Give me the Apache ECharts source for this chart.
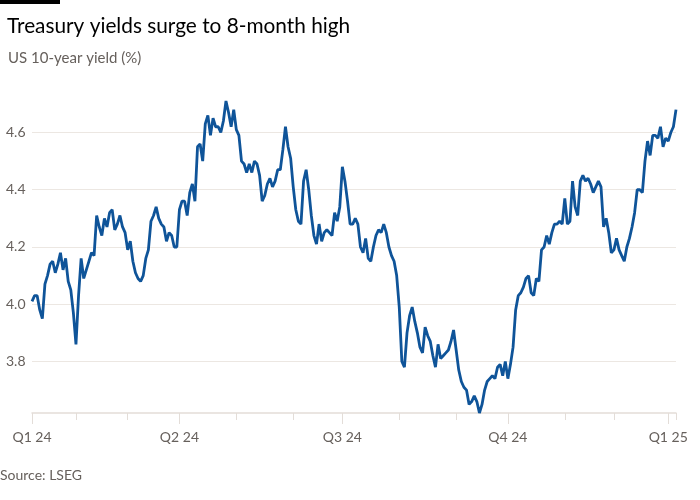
<!DOCTYPE html>
<html>
<head>
<meta charset="utf-8">
<script src="https://cdn.jsdelivr.net/npm/echarts@6/dist/echarts.min.js"></script>
<style>
  html, body { margin: 0; padding: 0; background: #ffffff; }
  #chart { width: 700px; height: 500px; }
</style>
</head>
<body>
<div id="chart"></div>
<script>
// US 10-year Treasury yield (%), one value per trading day, 8 Jan 2024 - 7 Jan 2025
const jan24 = [4.01, 4.03, 4.03, 3.98, 3.95, 4.07, 4.10, 4.14, 4.15, 4.11, 4.14, 4.18, 4.12, 4.16, 4.08, 4.05, 3.97];
const feb24 = [3.86, 4.03, 4.16, 4.09, 4.12, 4.15, 4.18, 4.17, 4.31, 4.27, 4.24, 4.30, 4.27, 4.32, 4.33, 4.26, 4.28, 4.31, 4.27, 4.25];
const mar24 = [4.19, 4.22, 4.15, 4.11, 4.09, 4.08, 4.10, 4.16, 4.19, 4.29, 4.31, 4.34, 4.30, 4.28, 4.27, 4.22, 4.25, 4.24, 4.20, 4.20];
const apr24 = [4.33, 4.36, 4.36, 4.31, 4.39, 4.42, 4.36, 4.55, 4.56, 4.50, 4.63, 4.66, 4.59, 4.65, 4.62, 4.62, 4.60, 4.64, 4.71, 4.67, 4.62, 4.68];
const may24 = [4.61, 4.59, 4.50, 4.49, 4.46, 4.49, 4.46, 4.50, 4.49, 4.45, 4.36, 4.38, 4.42, 4.44, 4.41, 4.43, 4.47, 4.47, 4.54, 4.62, 4.55, 4.51];
const jun24 = [4.41, 4.33, 4.29, 4.28, 4.43, 4.47, 4.40, 4.31, 4.24, 4.21, 4.28, 4.22, 4.25, 4.26, 4.25, 4.24, 4.32, 4.29, 4.34];
const jul24 = [4.48, 4.43, 4.36, 4.28, 4.28, 4.30, 4.28, 4.20, 4.18, 4.23, 4.16, 4.15, 4.20, 4.24, 4.26, 4.25, 4.28, 4.25, 4.20, 4.17, 4.15, 4.10];
const aug24 = [3.99, 3.80, 3.78, 3.90, 3.96, 3.99, 3.94, 3.90, 3.85, 3.83, 3.92, 3.89, 3.87, 3.82, 3.78, 3.86, 3.81, 3.82, 3.83, 3.84, 3.87, 3.91];
const sep24 = [3.84, 3.77, 3.73, 3.71, 3.70, 3.65, 3.66, 3.68, 3.66, 3.62, 3.65, 3.70, 3.73, 3.74, 3.75, 3.74, 3.78, 3.79, 3.75, 3.80];
const oct24 = [3.74, 3.79, 3.85, 3.98, 4.03, 4.04, 4.06, 4.09, 4.10, 4.04, 4.03, 4.09, 4.08, 4.19, 4.20, 4.24, 4.21, 4.25, 4.28, 4.28, 4.29, 4.28];
const nov24 = [4.37, 4.28, 4.29, 4.43, 4.34, 4.31, 4.43, 4.45, 4.43, 4.44, 4.42, 4.39, 4.41, 4.43, 4.41, 4.27, 4.30, 4.25, 4.18];
const dec24 = [4.19, 4.23, 4.19, 4.17, 4.15, 4.20, 4.23, 4.27, 4.32, 4.40, 4.40, 4.39, 4.50, 4.57, 4.52, 4.59, 4.59, 4.58, 4.62, 4.55, 4.58];
const jan25 = [4.57, 4.60, 4.62, 4.68];

const yTicks = [3.8, 4.0, 4.2, 4.4, 4.6];
const quarterNames = { 0: 'Q1', 3: 'Q2', 6: 'Q3', 9: 'Q4' };

// trading-day calendar (categories)
const startDate = '2024-01-08';
const endDate = '2025-01-07';
const holidays = ['2024-01-15', '2024-02-19', '2024-03-29', '2024-05-27', '2024-06-19', '2024-07-04',
  '2024-09-02', '2024-10-14', '2024-11-11', '2024-11-28', '2024-12-25', '2025-01-01'];

function pad(n) { return n < 10 ? '0' + n : '' + n; }
const dates = [];
(function () {
  const d = new Date(startDate + 'T12:00:00Z');
  const end = new Date(endDate + 'T12:00:00Z');
  while (d <= end) {
    const s = d.getUTCFullYear() + '-' + pad(d.getUTCMonth() + 1) + '-' + pad(d.getUTCDate());
    const wd = d.getUTCDay();
    if (wd !== 0 && wd !== 6 && holidays.indexOf(s) < 0) dates.push(s);
    d.setUTCDate(d.getUTCDate() + 1);
  }
})();

const yields = [].concat(jan24, feb24, mar24, apr24, may24, jun24, jul24, aug24, sep24, oct24, nov24, dec24, jan25);

function monthOf(s) { return parseInt(s.slice(5, 7), 10) - 1; }
function isMonthStart(i) {
  return i === 0 || monthOf(dates[i]) !== monthOf(dates[i - 1]);
}
function isQuarterStart(i) {
  return isMonthStart(i) && quarterNames.hasOwnProperty(monthOf(dates[i]));
}

const grey = '#66605c';
const gridCol = '#ece7e2';
const tickCol = '#e3ddd8';
const font = 'Lato, "Open Sans", sans-serif';

const chart = echarts.init(document.getElementById('chart'), null, { renderer: 'canvas' });
chart.setOption({
  backgroundColor: '#ffffff',
  animation: false,
  title: [
    { text: 'Treasury yields surge to 8-month high', left: 2, top: 11,
      textStyle: { fontFamily: font, fontSize: 20.8, fontWeight: 'normal', color: '#000000' } },
    { text: 'US 10-year yield (%)', left: 3, top: 46,
      textStyle: { fontFamily: font, fontSize: 15, fontWeight: 'normal', color: grey } }
  ],
  graphic: [
    { type: 'rect', left: 0, top: 0, shape: { width: 60, height: 4 }, style: { fill: '#000000' } },
    { type: 'text', left: 0, top: 468, style: { text: 'Source: LSEG', fontFamily: font, fontSize: 14, fill: grey } }
  ],
  grid: { left: 32, right: 24, top: 101, bottom: 87 },
  xAxis: [
    {
      type: 'category', data: dates, boundaryGap: false, position: 'bottom',
      axisLine: { show: true, lineStyle: { color: tickCol, width: 1.5 } },
      axisTick: { show: true, length: 7, lineStyle: { color: tickCol, width: 1 },
        interval: function (i) { return isMonthStart(i) || i === dates.length - 1; } },
      axisLabel: { show: false },
      splitLine: { show: false }
    },
    {
      type: 'category', data: dates, boundaryGap: false, position: 'bottom',
      axisLine: { show: false },
      axisTick: { show: true, length: 11, lineStyle: { color: tickCol, width: 1 },
        interval: function (i) { return isQuarterStart(i); } },
      axisLabel: {
        show: true, margin: 17, color: grey, fontFamily: font, fontSize: 14,
        interval: function (i) { return isQuarterStart(i); },
        formatter: function (v) { return quarterNames[monthOf(v)] + ' ' + v.slice(2, 4); }
      },
      splitLine: { show: false }
    }
  ],
  yAxis: {
    type: 'value', min: 3.62, max: 4.71,
    axisLine: { show: false },
    axisTick: { show: false, customValues: yTicks },
    axisLabel: { customValues: yTicks, align: 'left', margin: 26, color: grey, fontFamily: font, fontSize: 14,
      formatter: function (v) { return v.toFixed(1); } },
    splitLine: { show: true, lineStyle: { color: gridCol, width: 1 } }
  },
  series: [{
    type: 'line', data: yields, xAxisIndex: 0, symbol: 'none', smooth: false,
    lineStyle: { color: '#0f5499', width: 2.8 }, z: 5
  }]
});
</script>
</body>
</html>
